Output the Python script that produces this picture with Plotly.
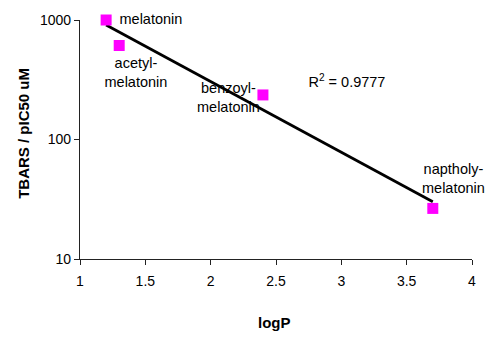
import numpy as np
import plotly.graph_objects as go

# Compounds: lipophilicity (logP) vs. TBARS inhibition potency
compounds = ["melatonin", "acetyl-melatonin", "benzoyl-melatonin", "naptholy-melatonin"]
log_p = [1.2, 1.3, 2.4, 3.7]
tbars_ic50 = [1000, 612, 236, 26.5]

x_ticks = [1, 1.5, 2, 2.5, 3, 3.5, 4]
y_ticks = [10, 100, 1000]
r2_label = "R<sup>2</sup> = 0.9777"

FONT = "Arial, Liberation Sans, sans-serif"

# Exponential trendline (linear fit of log10(y) against x)
slope, intercept = np.polyfit(log_p, np.log10(tbars_ic50), 1)
fit_x = np.linspace(min(log_p), max(log_p), 60)
fit_y = 10 ** (intercept + slope * fit_x)

fig = go.Figure()

# Point labels, drawn first so the trendline passes over them
label_text = ["melatonin", "acetyl-<br>melatonin", "benzoyl-<br>melatonin", r2_label,
              "naptholy-<br>melatonin"]
label_x = [1.543, 1.428, 2.136, 3.043, 3.858]
label_y = [1000, 352, 219, 293, 46.1]
fig.add_trace(go.Scatter(
    x=label_x, y=label_y, mode="text", text=label_text,
    textposition="middle center",
    textfont=dict(family=FONT, size=14.5, color="black"),
    cliponaxis=False, hoverinfo="skip", showlegend=False,
))

fig.add_trace(go.Scatter(
    x=fit_x, y=fit_y, mode="lines",
    line=dict(color="black", width=2.8),
    hoverinfo="skip", showlegend=False,
))

fig.add_trace(go.Scatter(
    x=log_p, y=tbars_ic50, mode="markers", text=compounds,
    marker=dict(symbol="square", size=11, color="#FF00FF", line=dict(width=0)),
    cliponaxis=False, showlegend=False,
))

fig.update_layout(
    width=488, height=337,
    margin=dict(l=80, r=16, t=16, b=78),
    paper_bgcolor="white", plot_bgcolor="white",
    font=dict(family=FONT, size=14, color="black"),
    showlegend=False,
    annotations=[
        dict(text="<b>logP</b>", xref="paper", yref="paper", x=0.495, y=-0.265,
             xanchor="center", yanchor="middle", showarrow=False,
             font=dict(family=FONT, size=15, color="black")),
        dict(text="<b>TBARS / pIC50 uM</b>", xref="paper", yref="paper", x=-0.144, y=0.526,
             xanchor="center", yanchor="middle", showarrow=False, textangle=-90,
             font=dict(family=FONT, size=15, color="black")),
    ],
)

fig.update_xaxes(
    range=[1, 4], tickvals=x_ticks, ticktext=[f"{v:g}" for v in x_ticks],
    showgrid=False, zeroline=False, showline=True, linecolor="#222", linewidth=1.3,
    ticks="outside", ticklen=5, tickcolor="#222", tickwidth=1.3,
    ticklabelstandoff=4,
    tickfont=dict(family=FONT, size=14, color="black"),
)
fig.update_yaxes(
    type="log", range=[1, 3], tickvals=y_ticks, ticktext=[str(v) for v in y_ticks],
    showgrid=False, zeroline=False, showline=True, linecolor="#222", linewidth=1.3,
    ticks="outside", ticklen=5, tickcolor="#222", tickwidth=1.3,
    tickfont=dict(family=FONT, size=14, color="black"),
)

fig.write_html("out.html")
